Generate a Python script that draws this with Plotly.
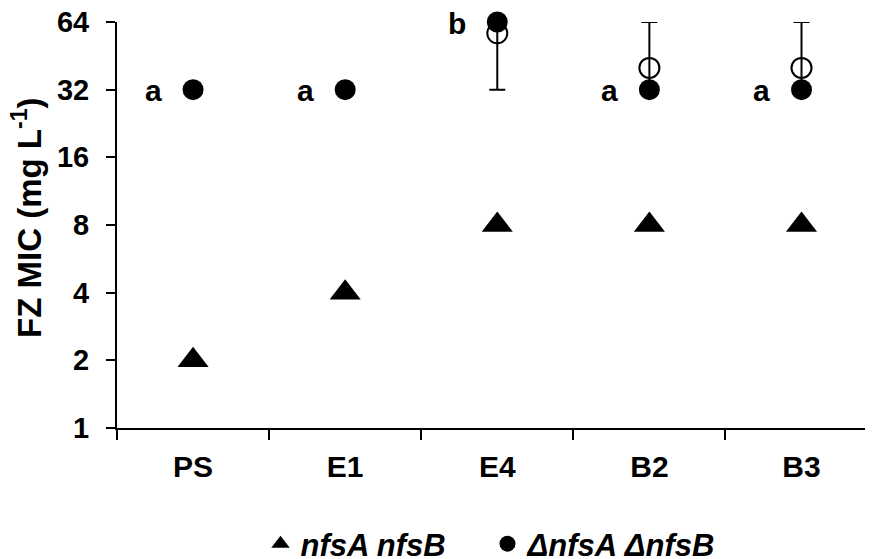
import plotly.graph_objects as go
import math

categories = ["PS", "E1", "E4", "B2", "B3"]
nfs_values = [2, 4, 8, 8, 8]
delta_values = [32, 32, 64, 32, 32]
open_cats = ["E4", "B2", "B3"]
open_values = [57, 40, 40]
open_err_plus = [7, 24, 24]
open_err_minus = [25, 8, 8]
sig_letters = ["a", "a", "b", "a", "a"]
y_ticks = [1, 2, 4, 8, 16, 32, 64]

FONT = "Liberation Sans, Arial, sans-serif"
# page body has an 8px margin, so figure coords = screen coords - 8
OFF = 8
L, T = 117 - OFF, 22 - OFF
R = 873 - (873 - OFF)
B = 559 - (428 - OFF)
PW = 873 - L - R
PH = 559 - T - B
BOTTOM = 428 - OFF

fig = go.Figure()

fig.add_trace(go.Scatter(
    x=categories, y=nfs_values, mode="markers",
    name="<i>nfsA nfsB</i>", cliponaxis=False,
    marker=dict(symbol="triangle-up", size=27, color="black"),
))

fig.add_trace(go.Scatter(
    x=open_cats, y=open_values, mode="markers", showlegend=False, cliponaxis=False,
    marker=dict(symbol="circle-open", size=20, color="black", line=dict(width=2, color="black")),
    error_y=dict(type="data", array=open_err_plus, arrayminus=open_err_minus,
                 color="black", thickness=2, width=8),
))

fig.add_trace(go.Scatter(
    x=categories, y=delta_values, mode="markers",
    name="<i>ΔnfsA ΔnfsB</i>", cliponaxis=False,
    marker=dict(symbol="circle", size=21, color="black"),
))

for c, v, t in zip(categories, delta_values, sig_letters):
    fig.add_annotation(x=c, y=math.log10(v), text=t, showarrow=False,
                       xshift=-40, yshift=-1,
                       font=dict(family=FONT, size=30, color="black", weight="bold"))

fig.add_annotation(xref="paper", yref="paper", x=(27 - OFF - L) / PW,
                   y=(BOTTOM - (218 - OFF)) / PH,
                   text="FZ MIC (mg L<sup>-1</sup>)", textangle=-90, showarrow=False,
                   xanchor="center", yanchor="middle",
                   font=dict(family=FONT, size=33, color="black", weight="bold"))

legend_left = 282 - OFF - 21.5
legend_top = 541 - OFF - 24

fig.update_layout(
    template="none",
    width=873, height=559,
    margin=dict(l=L, r=R, t=T, b=B, autoexpand=False),
    paper_bgcolor="white", plot_bgcolor="white",
    font=dict(family=FONT, size=30, color="black", weight="bold"),
    showlegend=True,
    legend=dict(orientation="h", x=(legend_left - L) / PW, xanchor="left",
                y=-(legend_top - BOTTOM) / PH, yanchor="top",
                font=dict(family=FONT, size=31, color="black", weight="bold"),
                entrywidth=182, entrywidthmode="pixels", itemsizing="trace",
                bgcolor="rgba(0,0,0,0)", borderwidth=0),
    xaxis=dict(type="category", range=[-0.5, 4.47], showline=True, linecolor="black",
               linewidth=2, ticks="outside", ticklen=10, tickwidth=2, tickcolor="black",
               tickson="boundaries", showgrid=False, zeroline=False, automargin=False,
               tickfont=dict(family=FONT, size=30, color="black", weight="bold"),
               ticklabelstandoff=11, ticklabeloverflow="allow"),
    yaxis=dict(type="log", range=[0, math.log10(64) + 1e-9], tickvals=y_ticks,
               ticktext=[str(v) for v in y_ticks], showline=True, linecolor="black",
               linewidth=2, ticks="outside", ticklen=9, tickwidth=2, tickcolor="black",
               showgrid=False, zeroline=False, automargin=False,
               tickfont=dict(family=FONT, size=29, color="black", weight="bold"),
               ticklabelstandoff=11, ticklabeloverflow="allow"),
)

fig.write_html("out.html")
